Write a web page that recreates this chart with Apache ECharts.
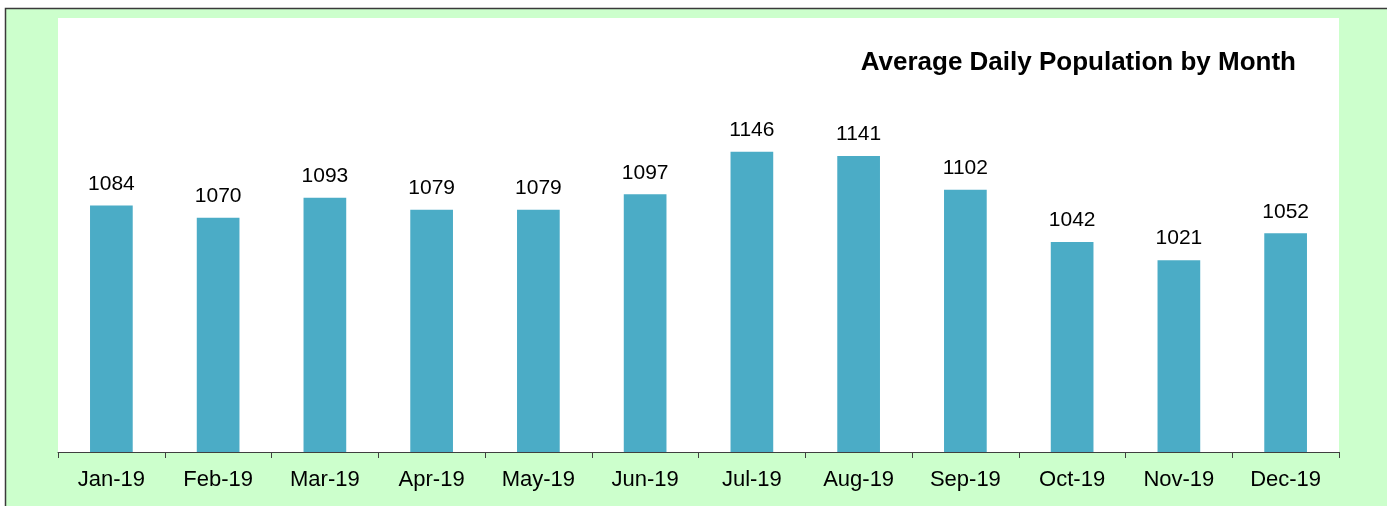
<!DOCTYPE html>
<html>
<head>
<meta charset="utf-8">
<script src="https://cdn.jsdelivr.net/npm/echarts@6/dist/echarts.min.js"></script>
<style>
  html, body { margin: 0; padding: 0; background: #ffffff; }
  #chart { width: 1387px; height: 506px; }
</style>
</head>
<body>
<div id="chart"></div>
<script>
// Monthly average daily population, 2019
const months = ['Jan-19', 'Feb-19', 'Mar-19', 'Apr-19', 'May-19', 'Jun-19',
                'Jul-19', 'Aug-19', 'Sep-19', 'Oct-19', 'Nov-19', 'Dec-19'];
const population = [1084, 1070, 1093, 1079, 1079, 1097, 1146, 1141, 1102, 1042, 1021, 1052];
const chartTitle = 'Average Daily Population by Month';

const chart = echarts.init(document.getElementById('chart'), null, { renderer: 'canvas' });

chart.setOption({
  backgroundColor: '#ffffff',
  animation: false,
  textStyle: { fontFamily: 'Liberation Sans, Arial, sans-serif' },
  graphic: [
    {
      // light green chart area with its dark frame
      type: 'rect',
      z: -10,
      silent: true,
      shape: { x: 5.5, y: 8.5, width: 1400, height: 520 },
      style: { fill: '#ccffcc', stroke: '#3a3a3a', lineWidth: 1.5 }
    }
  ],
  title: {
    text: chartTitle,
    right: 86,
    top: 45,
    textStyle: {
      fontFamily: 'Liberation Sans, Arial, sans-serif',
      fontSize: 26,
      fontWeight: 'bold',
      color: '#000000'
    }
  },
  grid: {
    left: 58,
    right: 48,
    top: 18,
    bottom: 54,
    show: true,
    backgroundColor: '#ffffff',
    borderWidth: 0
  },
  xAxis: {
    type: 'category',
    data: months,
    boundaryGap: true,
    axisLine: { lineStyle: { color: '#404040', width: 1 } },
    axisTick: { show: true, length: 6, interval: 0, lineStyle: { color: '#404040' } },
    axisLabel: {
      interval: 0,
      margin: 17,
      color: '#000000',
      fontSize: 22,
      fontFamily: 'Liberation Sans, Arial, sans-serif'
    }
  },
  yAxis: {
    type: 'value',
    min: 800,
    max: 1300,
    interval: 100,
    show: false,
    splitLine: { show: false }
  },
  series: [
    {
      type: 'bar',
      data: population,
      barWidth: '40%',
      itemStyle: { color: '#4bacc6' },
      label: {
        show: true,
        position: 'top',
        distance: 11,
        color: '#000000',
        fontSize: 21,
        fontFamily: 'Liberation Sans, Arial, sans-serif'
      }
    }
  ]
});
</script>
</body>
</html>
